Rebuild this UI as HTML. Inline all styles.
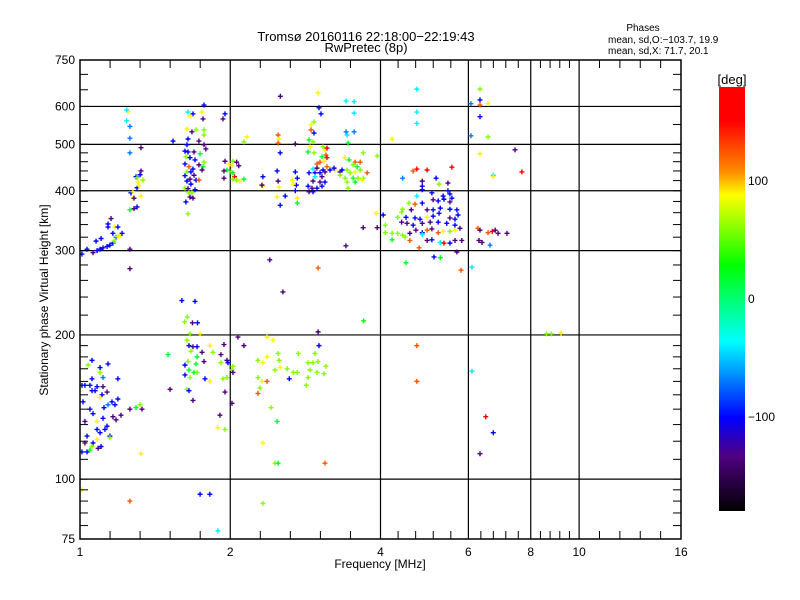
<!DOCTYPE html>
<html><head><meta charset="utf-8"><style>
html,body{margin:0;padding:0;background:#fff;}
svg{display:block;}
text{font-family:"Liberation Sans",sans-serif;fill:#000;}
</style></head><body>
<svg id="chart" width="800" height="600" viewBox="0 0 800 600" xmlns="http://www.w3.org/2000/svg">
<defs>
<linearGradient id="cmap" x1="0" y1="0" x2="0" y2="1">
<stop offset="0" stop-color="#ff0000"/><stop offset="0.08" stop-color="#ff0000"/>
<stop offset="0.2" stop-color="#ff8c00"/><stop offset="0.255" stop-color="#ffff00"/>
<stop offset="0.42" stop-color="#00ff00"/><stop offset="0.6" stop-color="#00ffff"/>
<stop offset="0.78" stop-color="#0000ff"/><stop offset="0.87" stop-color="#500082"/>
<stop offset="1" stop-color="#000000"/>
</linearGradient>
</defs>
<text x="366" y="41" font-size="13" text-anchor="middle">Tromsø 20160116 22:18:00−22:19:43</text>
<text x="366" y="52" font-size="13" text-anchor="middle">RwPretec (8p)</text>
<text x="643" y="31" font-size="10" text-anchor="middle">Phases</text>
<text x="608" y="43" font-size="10">mean, sd,O:−103.7, 19.9</text>
<text x="608" y="54" font-size="10">mean, sd,X:  71.7, 20.1</text>
<g id="grid"></g>
<g id="marks"></g>
<rect x="80" y="60" width="601" height="479" fill="none" stroke="#000" stroke-width="1.5"/>
<g id="axes"></g>
<text x="380" y="568" font-size="12" text-anchor="middle">Frequency [MHz]</text>
<text transform="translate(48,300) rotate(-90)" font-size="12" text-anchor="middle">Stationary phase Virtual Height [km]</text>
<rect x="719" y="87" width="26" height="424" fill="url(#cmap)"/>
<text x="732" y="84" font-size="13" text-anchor="middle">[deg]</text>
<g id="cbar"></g>
</svg>
<script>
const NS="http://www.w3.org/2000/svg";
// Chart data: [frequency MHz, virtual height km, phase deg]
const traceF1 = [[1.009,295,-100],[1.033,302,-100],[1.062,297,-135],[1.082,300,-100],[1.097,302,-100],[1.112,304,-100],[1.133,306,-100],[1.148,308,-100],[1.164,311,-100],[1.077,314,-100],[1.102,318,-100],[1.138,336,-100],[1.138,341,-100],[1.164,326,-100],[1.181,320,-70],[1.191,321,90],[1.208,323,90],[1.214,326,-100],[1.175,336,90],[1.191,336,-100],[1.154,350,-135],[1.259,302,-135],[1.17,314,60]];
const traceF2 = [[1.259,365,20],[1.283,367,-135],[1.301,370,-100],[1.277,386,90],[1.283,386,-135],[1.265,396,-100],[1.277,398,90],[1.301,406,-100],[1.313,410,90],[1.307,417,90],[1.295,428,-100],[1.301,426,60],[1.319,432,-100],[1.337,421,60],[1.325,390,90],[1.325,440,-135],[1.325,492,-135],[1.259,480,-70],[1.259,515,-70],[1.259,545,-70],[1.248,585,90],[1.259,275,-135]];
const clusterHighF = [[1.772,604,-100],[1.646,584,-40],[1.684,579,-100],[1.661,573,90],[1.756,584,90],[1.764,565,-135],[1.638,538,90],[1.676,531,-135],[1.708,536,60],[1.772,536,60],[1.772,523,60],[1.646,513,-100],[1.731,508,-135],[1.638,499,-100],[1.772,499,-135],[1.787,489,-135],[1.623,484,-100],[1.646,482,-100],[1.692,482,-135],[1.740,478,20],[1.630,471,60],[1.661,469,-100],[1.700,464,-100],[1.772,459,60],[1.623,455,-100],[1.653,449,125],[1.684,444,-100],[1.731,453,-135],[1.764,449,20],[1.756,442,-135],[1.638,438,60],[1.668,438,-100],[1.692,431,-135],[1.623,430,-100],[1.661,423,-135],[1.708,421,-100],[1.731,421,125],[1.638,419,-100],[1.668,413,-100],[1.623,405,60],[1.646,404,-135],[1.700,402,-100],[1.653,396,60],[1.676,396,60],[1.661,388,-135],[1.684,386,-135],[1.630,379,-100],[1.646,358,60],[1.536,508,-100],[1.934,565,-135],[1.952,579,-100],[2.16,518,90],[2.13,506,60]];
const clusterD = [[2.025,461,60],[2.016,451,90],[1.970,442,20],[2.007,438,60],[2.025,436,20],[2.04,428,165],[2.025,423,60],[2.06,421,60],[2.09,419,90],[2.13,423,20],[2.06,459,-135],[2.08,451,-135],[1.952,461,-135],[1.943,440,-135],[1.943,425,-135],[1.99,455,90]];
const clusterE = [[2.998,640,90],[3.012,596,-100],[3.04,579,-100],[3.413,616,-40],[3.542,614,-40],[3.542,581,-40],[3.413,531,-70],[3.542,531,-70],[3.429,523,-40],[2.494,523,125],[2.506,513,90],[2.494,503,125],[2.518,480,-100],[2.70,501,-135],[2.903,549,90],[2.943,557,60],[2.903,536,125],[2.943,528,-100],[2.877,511,20],[2.93,506,60],[2.89,494,90],[2.864,482,20],[2.943,480,60],[3.068,494,60],[3.096,487,90],[3.125,491,165],[3.11,475,125],[3.054,471,20],[3.026,459,125],[3.082,461,90],[3.125,469,165],[2.984,455,125],[2.93,444,-40],[2.984,446,-135],[3.068,442,-100],[3.125,449,125],[2.877,436,-100],[2.957,436,-100],[3.026,436,-100],[3.096,438,-135],[3.169,442,-100],[3.243,442,90],[2.957,428,-40],[3.054,428,-135],[2.93,419,-135],[3.026,417,-135],[3.096,417,-100],[2.864,409,-100],[2.916,405,-135],[2.984,405,-100],[3.054,409,-100],[2.877,398,-135],[2.93,398,-100],[2.70,438,-100],[2.725,425,-100],[2.713,411,-100],[2.70,400,-100],[2.725,386,90],[2.663,421,90],[2.675,413,90],[2.494,419,-135],[2.506,407,90],[2.577,390,-100],[2.483,388,90],[2.725,377,20],[2.518,373,-100],[2.483,440,-100],[2.325,428,-100],[2.325,409,90],[2.315,411,-135],[3.228,446,-100],[3.319,438,-135],[3.397,469,90],[3.461,464,20]];
const clusterF = [[3.445,503,20],[3.693,480,60],[3.94,473,60],[3.558,459,125],[3.642,459,125],[3.591,449,20],[3.429,442,60],[3.477,436,60],[3.558,438,90],[3.642,442,60],[3.76,436,125],[3.397,425,60],[3.526,425,20],[3.608,425,60],[3.693,425,60],[3.429,417,60],[3.558,417,20],[3.676,421,90],[3.445,405,60],[3.35,442,-100],[3.319,431,60],[3.526,453,60]];
const clusterG = [[4.73,444,165],[4.96,442,165],[4.65,440,125],[4.43,425,-70],[5.17,425,-100],[4.85,419,-135],[5.46,415,-135],[5.24,413,60],[4.85,409,-100],[4.85,402,-100],[5.46,400,-100],[6.73,431,-40],[7.68,438,165],[5.51,394,-100],[5.34,390,-100],[5.07,396,-100],[4.73,390,-40],[5.56,386,-100],[4.56,377,60],[4.69,375,125],[4.85,377,-100],[5.10,383,-135],[5.22,381,-100],[5.36,384,-100],[5.51,379,-135],[4.43,366,60],[4.41,361,60],[4.61,365,-135],[4.96,365,-135],[5.10,365,-100],[5.27,368,-100],[5.51,366,-100],[5.69,365,-100],[5.72,356,-100],[4.33,352,60],[4.50,352,-100],[4.69,351,-100],[4.80,349,-100],[4.96,352,90],[5.10,354,-100],[5.24,359,-100],[5.51,351,-135],[5.64,349,-100],[4.05,356,-100],[3.92,359,90],[3.693,335,-135],[3.94,335,-135],[4.09,339,60],[4.41,344,-135],[4.52,342,-135],[4.65,339,-100],[4.85,342,-135],[5.03,344,-135],[5.22,344,-100],[5.43,342,-100],[5.64,339,-100],[4.09,327,60],[4.22,326,60],[4.33,326,60],[4.43,323,60],[4.58,326,-135],[4.71,331,-135],[4.85,327,-100],[4.96,331,125],[5.07,333,-135],[5.22,327,125],[5.34,329,90],[5.51,329,60],[5.64,331,90],[5.77,334,-135],[4.22,316,20],[4.48,320,60],[4.58,315,125],[4.85,324,-40],[4.96,315,-135],[5.07,316,-100],[5.27,312,-40],[5.36,311,165],[5.51,311,-100],[5.64,315,-135],[5.82,315,-135],[4.78,304,125],[5.69,298,-135],[5.12,291,-100],[5.27,290,20],[4.50,283,20],[5.80,273,125],[6.10,277,-40],[6.27,334,125],[6.33,331,-135],[6.57,327,125],[6.70,329,165],[6.79,331,-135],[6.88,326,-135],[7.17,326,-135],[6.30,315,-135],[6.39,312,-135],[6.63,308,-70]];
const clusterLowE = [[1.057,177,-100],[1.138,174,-100],[1.038,173,60],[1.097,171,-100],[1.097,167,60],[1.057,162,-100],[1.112,163,-70],[1.191,162,-100],[1.009,157,-100],[1.023,157,-100],[1.047,157,-100],[1.082,156,-100],[1.112,156,-135],[1.057,153,-100],[1.072,153,-100],[1.107,150,-100],[1.133,152,-135],[1.097,148,90],[1.191,147,-100],[1.159,145,-100],[1.175,143,-100],[1.138,143,-70],[1.014,145,-100],[1.047,140,-100],[1.062,137,-100],[1.117,141,-100],[1.164,135,-135],[1.181,133,-135],[1.112,134,-100],[1.023,132,-135],[1.082,132,90],[1.133,129,-100],[1.122,127,-100],[1.082,127,-100],[1.097,125,-100],[1.033,123,-100],[1.148,123,-100],[1.082,121,90],[1.023,119,-135],[1.062,119,-100],[1.087,116,-135],[1.057,117,60],[1.009,114,-100],[1.033,114,-100],[1.047,115,20],[1.102,117,-100],[1.208,136,-135],[1.259,140,-135],[1.295,141,20],[1.319,143,60],[1.331,140,-135],[1.325,113,90],[1.148,122,60]];
const clusterMidE = [[1.661,201,60],[1.740,201,90],[1.638,195,60],[1.653,190,-100],[1.684,189,-135],[1.716,189,-100],[1.821,190,90],[1.943,191,-135],[1.668,185,60],[1.756,184,-135],[1.846,184,60],[1.716,180,20],[1.646,176,60],[1.623,173,-100],[1.708,174,20],[1.772,176,-135],[1.653,169,20],[1.716,167,60],[1.692,167,20],[1.623,165,-100],[1.661,163,60],[1.780,162,-100],[1.821,160,90],[1.638,154,60],[1.653,153,-100],[1.684,146,-135],[1.515,154,-135],[1.501,182,20],[1.916,182,-135],[1.916,175,60],[1.970,177,-135],[1.979,175,-100],[2.025,172,60],[2.016,169,60],[1.970,163,60],[1.934,162,60],[2.025,167,-135],[1.952,152,-135],[2.016,144,-135],[1.907,136,-135],[1.889,128,90],[1.952,127,60],[2.072,198,-135],[2.13,190,-135],[1.60,236,-100],[1.70,235,-100],[1.62,213,60],[1.72,212,-100],[1.64,218,60],[1.68,212,-135]];
const clusterRightE = [[2.273,177,60],[2.325,175,90],[2.370,180,90],[2.494,183,60],[2.506,177,60],[2.459,169,60],[2.518,171,90],[2.601,170,60],[2.675,167,60],[2.738,183,60],[2.725,167,60],[2.864,175,60],[2.93,175,60],[2.998,176,60],[2.89,169,60],[2.984,167,60],[2.864,163,60],[2.273,163,60],[2.315,160,90],[2.293,155,60],[2.273,151,125],[2.370,160,125],[2.626,162,-100],[2.84,157,60],[2.957,183,60],[2.414,141,60],[2.483,132,20],[2.325,119,90],[2.459,108,60],[3.096,108,125],[2.370,198,90],[2.437,195,90],[3.012,190,-100],[3.11,172,60],[3.082,166,60]];
const outliers = [[1.009,95,90],[1.259,90,125],[1.74,93,-100],[1.82,93,-100],[1.889,78,-40],[2.325,89,60],[2.494,108,20],[4.73,190,125],[4.73,160,125],[6.10,168,-40],[6.33,113,-135],[6.5,135,165],[6.73,125,-100],[2.40,287,-135],[2.55,246,-135],[3.0,276,125],[3.0,203,-135],[3.7,214,20],[3.41,307,-135],[2.52,630,-135],[4.73,652,-40],[4.73,584,-40],[4.73,553,-40],[4.22,513,90],[6.33,652,60],[6.07,608,-70],[6.33,619,-100],[6.33,604,125],[6.57,608,90],[6.33,571,-100],[6.07,521,-70],[6.57,518,60],[6.33,478,90],[7.44,487,-135],[6.73,428,90],[8.6,201,60],[8.8,201,60],[9.2,202,90],[1.24,590,-40],[1.24,560,-40],[5.56,448,165]];
const xTickValues = [1,2,4,6,8,10,16];
const xTickLabels = ["1","2","4","6","8","10","16"];
const yTickValues = [75,100,200,300,400,500,600,750];
const yTickLabels = ["75","100","200","300","400","500","600","750"];
const gridX = [2,4,6,8,10];
const gridY = [100,200,300,400,500,600];
const yMinorTicks = [80,85,90,95,110,120,130,140,150,160,170,180,190,220,240,260,280,320,340,360,380,420,440,460,480,550,650,700];
const cbarValues = [100,0,-100];
const cbarLabels = ["100","0","−100"];

const X0=80,X1=681,Y0=539,Y1=60;
function xs(f){return X0+(X1-X0)*Math.log(f)/Math.log(16);}
function ys(h){return Y0-(Y0-Y1)*Math.log(h/75)/Math.log(10);}
function cy(p){return 87+424*(180-p)/360;}
const stops=[[0,[255,0,0]],[0.08,[255,0,0]],[0.2,[255,140,0]],[0.255,[255,255,0]],[0.42,[0,255,0]],[0.6,[0,255,255]],[0.78,[0,0,255]],[0.87,[80,0,130]],[1,[0,0,0]]];
function color(p){
  let t=(180-p)/360; t=Math.max(0,Math.min(1,t));
  for(let i=1;i<stops.length;i++){
    if(t<=stops[i][0]){
      const a=stops[i-1],b=stops[i],u=(t-a[0])/((b[0]-a[0])||1);
      const c=a[1].map((v,k)=>Math.round(v+(b[1][k]-v)*u));
      return "rgb("+c.join(",")+")";
    }
  }
  return "#000";
}
function mk(tag,attrs,parent){const e=document.createElementNS(NS,tag);for(const k in attrs)e.setAttribute(k,attrs[k]);parent.appendChild(e);return e;}

const grid=document.getElementById("grid");
gridX.forEach(f=>{
  const l=mk("line",{x1:xs(f),x2:xs(f),y1:Y1,y2:Y0,stroke:"#000","stroke-width":1.2},grid);
  
  
});
gridY.forEach(h=>{
  const l=mk("line",{x1:X0,x2:X1,y1:ys(h),y2:ys(h),stroke:"#000","stroke-width":1.2},grid);
  
  
});

const axes=document.getElementById("axes");
xTickValues.forEach((v,i)=>{
  const t=mk("text",{x:xs(v),y:556,"font-size":12,"text-anchor":"middle"},axes);
  t.textContent=xTickLabels[i];
  
  
});
for(let i=0;i<xTickValues.length-1;i++){
  const a=xs(xTickValues[i]),b=xs(xTickValues[i+1]);
  for(let k=1;k<5;k++){
    const x=a+(b-a)*k/5;
    const l1=mk("line",{x1:x,x2:x,y1:Y0,y2:Y0-8,stroke:"#000"},axes);
    
    
    const l2=mk("line",{x1:x,x2:x,y1:Y1,y2:Y1+8,stroke:"#000"},axes);
    
    
  }
}
yTickValues.forEach((v,i)=>{
  const t=mk("text",{x:75,y:ys(v)+4,"font-size":12,"text-anchor":"end"},axes);
  t.textContent=yTickLabels[i];
  
  
});
yMinorTicks.concat(yTickValues).forEach(v=>{
  const y=ys(v);
  const l1=mk("line",{x1:X0,x2:X0+8,y1:y,y2:y,stroke:"#000"},axes);
  
  
  const l2=mk("line",{x1:X1,x2:X1-8,y1:y,y2:y,stroke:"#000"},axes);
  
  
});

const marks=document.getElementById("marks");
const all=[traceF1,traceF2,clusterHighF,clusterD,clusterE,clusterF,clusterG,clusterLowE,clusterMidE,clusterRightE,outliers];
all.forEach(arr=>arr.forEach(d=>{
  const x=xs(d[0]),y=ys(d[1]),c=color(d[2]);
  const p=mk("path",{d:"M"+(x-2.5)+" "+y+"h5M"+x+" "+(y-2.5)+"v5",stroke:c,"stroke-width":1.4,fill:"none"},marks);
  
  
}));

const cb=document.getElementById("cbar");
cbarValues.forEach((v,i)=>{
  const t=mk("text",{x:748,y:cy(v)+4,"font-size":12},cb);
  t.textContent=cbarLabels[i];
  
  
});
</script>
</body></html>
